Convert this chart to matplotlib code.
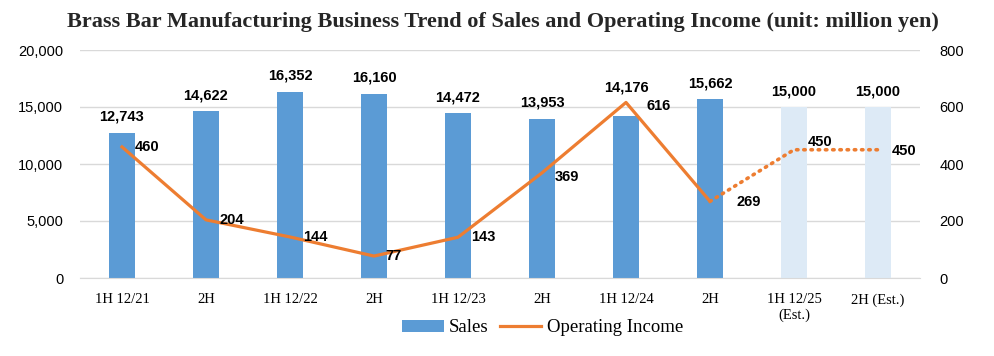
import matplotlib
matplotlib.use("Agg")
import matplotlib.pyplot as plt
from matplotlib.lines import Line2D
from matplotlib.patches import Patch

categories = ["1H 12/21", "2H", "1H 12/22", "2H", "1H 12/23", "2H", "1H 12/24", "2H",
              "1H 12/25\n(Est.)", "2H (Est.)"]
sales = [12743, 14622, 16352, 16160, 14472, 13953, 14176, 15662, 15000, 15000]
income = [460, 204, 144, 77, 143, 369, 616, 269, 450, 450]
n_actual = 8

# label offsets in pixels
sales_dy = [9, 9, 9, 9, 9, 9, 22, 9, 9, 9]
inc_off = [(13, 0), (13, 0), (13, 0), (11, 0), (13, 0), (13, -4), (20, -4), (26, -1), (14, 8), (14, -1)]

BAR = "#5B9BD5"
BAR_EST = "#DDEAF6"
LINE = "#ED7D31"
serif = "Liberation Serif"
sans = "Liberation Sans"

fig = plt.figure(figsize=(9.94, 3.56), dpi=100)
ax = fig.add_axes([80 / 994, 1 - 278 / 356, 840 / 994, 228 / 356])
ax2 = ax.twinx()

x = list(range(len(categories)))
colors = [BAR] * n_actual + [BAR_EST] * (len(categories) - n_actual)
ax.bar(x, sales, width=0.31, color=colors, zorder=2)
ax.set_xlim(-0.5, len(categories) - 0.5)
ax.set_ylim(0, 20000)
ax.set_yticks(range(0, 20001, 5000))
ax.set_yticklabels([f"{v:,}" for v in range(0, 20001, 5000)], fontfamily=sans, fontsize=10.5)
ax.yaxis.grid(True, color="#D9D9D9", linewidth=1, zorder=0)
ax.set_axisbelow(True)
for s in ["top", "right", "left"]:
    ax.spines[s].set_visible(False)
for s in ["top", "right", "left", "bottom"]:
    ax2.spines[s].set_visible(False)
ax.spines["bottom"].set_color("#D9D9D9")
ax.tick_params(axis="both", length=0)
ax.tick_params(axis="y", pad=12)
ax.set_xticks(x)
ax.set_xticklabels(categories, fontfamily=serif, fontsize=10.5, linespacing=1.25)
ax.tick_params(axis="x", pad=11)

for xi, v, dy in zip(x, sales, sales_dy):
    ax.annotate(f"{v:,}", (xi, v), xytext=(0, dy), textcoords="offset pixels",
                ha="center", va="bottom", fontfamily=sans, fontweight="bold", fontsize=10.5)

ax2.set_ylim(0, 800)
ax2.set_yticks(range(0, 801, 200))
ax2.set_yticklabels([str(v) for v in range(0, 801, 200)], fontfamily=sans, fontsize=10.5)
ax2.tick_params(axis="y", length=0, pad=14)

ax2.plot(x[:n_actual], income[:n_actual], color=LINE, linewidth=2.3, zorder=3)
ax2.plot(x[n_actual - 1:], income[n_actual - 1:], color=LINE, linewidth=2.6,
         linestyle=(0, (0.4, 1.6)), dash_capstyle="round", zorder=3)

for xi, v, (dx, dy) in zip(x, income, inc_off):
    ax2.annotate(str(v), (xi, v), xytext=(dx, dy), textcoords="offset pixels",
                 ha="left", va="center", fontfamily=sans, fontweight="bold", fontsize=10.5)

fig.text(0.506, 1 - 22 / 356, "Brass Bar Manufacturing Business Trend of Sales and Operating Income (unit: million yen)",
         ha="center", va="center", fontfamily=serif, fontweight="bold", fontsize=16, color="#262626")

handles = [Patch(facecolor=BAR, edgecolor="none"), Line2D([0], [0], color=LINE, linewidth=2.3)]
fig.legend(handles, ["Sales", "Operating Income"], loc="center", bbox_to_anchor=(0.546, 1 - 328 / 356),
           ncol=2, frameon=False, prop={"family": serif, "size": 13.5}, handlelength=2.2,
           handletextpad=0.3, columnspacing=0.6, handleheight=0.6)

fig.savefig("out.png", dpi=100)
